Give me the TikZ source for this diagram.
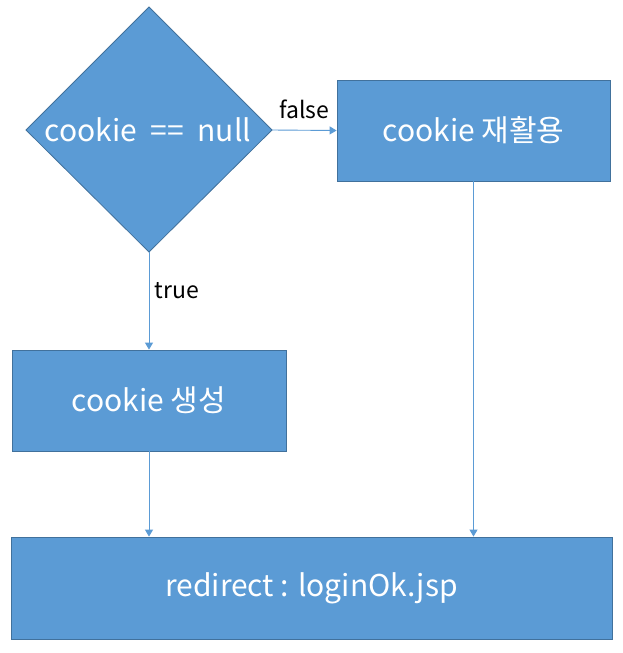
\documentclass[tikz,border=0pt]{standalone}
\usepackage{fontspec}
\setmainfont{Noto Sans CJK KR}
\usetikzlibrary{arrows.meta,shapes.geometric}
\definecolor{boxfill}{HTML}{5B9BD5}
\definecolor{boxline}{HTML}{41719C}
\definecolor{arrowc}{HTML}{5B9BD5}
\begin{document}
\begin{tikzpicture}[x=1pt,y=-1pt,
  box/.style={draw=boxline,fill=boxfill,line width=0.8pt,inner sep=0pt,text=white,font=\fontsize{30}{36}\selectfont},
  conn/.style={draw=arrowc,line width=0.9pt,-{Triangle[width=8pt,length=7pt]}},
  lbl/.style={font=\fontsize{23}{28}\selectfont,text=black}]
\useasboundingbox (0,0) rectangle (623,653);
\fill[white] (0,0) rectangle (623,653);
\path[box] (149,7) -- (272,130) -- (149,252) -- (26,130) -- cycle;
\node[text=white,font=\fontsize{30}{36}\selectfont] (d) at (148,130) {cookie\hspace{0.45em}==\hspace{0.45em}null};
\coordinate (dR) at (272,130);
\coordinate (dB) at (149,252);
\node[box,minimum width=273pt,minimum height=101pt] (r1) at (473.5,130.5) {cookie 재활용};
\node[box,minimum width=274pt,minimum height=101pt] (r2) at (149,400.5) {cookie 생성};
\node[box,minimum width=601pt,minimum height=102pt] (r3) at (311.5,588) {redirect : loginOk.jsp};
\draw[conn] (dR) -- (r1.west) node[lbl,midway,above=8pt] (lf) {false};
\draw[conn] (dB) -- (r2.north) node[lbl,pos=0.4,right=2pt] (lt) {true};
\draw[conn] (r2.south) -- (r3.north -| r2.south);
\draw[conn] (r1.south) -- (r3.north -| r1.south);
\end{tikzpicture}
\end{document}
